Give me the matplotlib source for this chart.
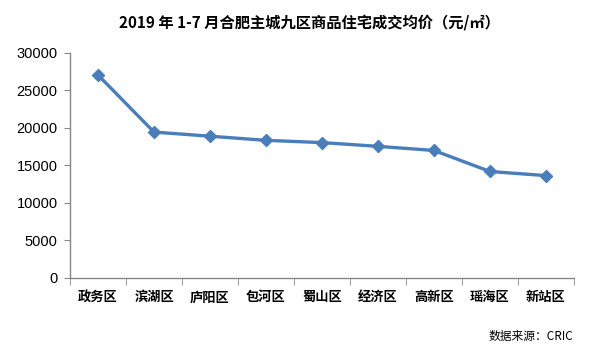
import matplotlib
matplotlib.use("Agg")
import matplotlib.pyplot as plt
import numpy as np

categories = ["政务区", "滨湖区", "庐阳区", "包河区", "蜀山区", "经济区", "高新区", "瑶海区", "新站区"]
prices = [27000, 19400, 18850, 18300, 18000, 17500, 16950, 14150, 13600]
yticks = [0, 5000, 10000, 15000, 20000, 25000, 30000]
title = "2019 年 1-7 月合肥主城九区商品住宅成交均价（元/㎡）"
source = "数据来源：CRIC"

plt.rcParams['font.family'] = ['Noto Sans CJK SC', 'DejaVu Sans']

fig = plt.figure(figsize=(6.1, 3.51), dpi=100)
ax = fig.add_axes([0.1148, 0.2088, 0.941 - 0.1148, 0.8504 - 0.2088])

x = np.arange(len(categories))
ax.plot(x, prices, color="#4A7EBB", lw=2.4, marker="D", markersize=6,
        markerfacecolor="#4A7EBB", markeredgecolor="#4A7EBB")

ax.set_xlim(-0.5, len(categories) - 0.5)
ax.set_ylim(0, 30000)
ax.set_yticks(yticks)
ax.set_yticklabels([str(v) for v in yticks], fontsize=10.5, family=['Liberation Sans'])
ax.set_xticks(x)
ax.set_xticklabels(categories, fontsize=9.5, fontweight='bold')
ax.set_xticks(np.arange(len(categories) + 1) - 0.5, minor=True)
ax.tick_params(axis='x', which='major', length=0, pad=9)
ax.tick_params(axis='x', which='minor', length=5, color='#868686', direction='out')
ax.tick_params(axis='y', length=4, color='#868686', direction='out', pad=5)

for s in ['top', 'right']:
    ax.spines[s].set_visible(False)
for s in ['left', 'bottom']:
    ax.spines[s].set_color('#868686')
    ax.spines[s].set_linewidth(1.0)

fig.text(0.507, 0.937, title, ha='center', va='center', fontsize=11, fontweight='bold')
fig.text(0.94, 0.04, source, ha='right', va='center', fontsize=8.5)

fig.savefig("out.png", dpi=100)
